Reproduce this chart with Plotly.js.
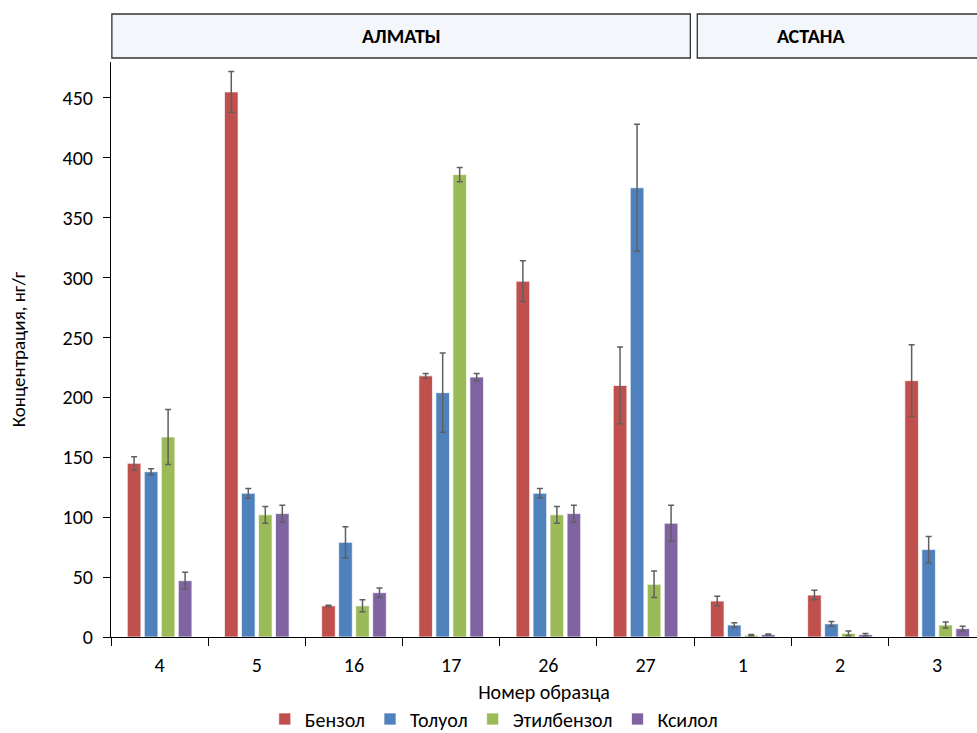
<!DOCTYPE html>
<html>
<head>
<meta charset="utf-8">
<script src="https://cdn.plot.ly/plotly-3.0.1.min.js"></script>
<style>html,body{margin:0;padding:0;background:#fff;}#chart{width:977px;height:733px;}</style>
</head>
<body>
<div id="chart"></div>
<script>
// Sample numbers (categories)
var samples = ['4', '5', '16', '17', '26', '27', '1', '2', '3'];
var seriesNames = ['Бензол', 'Толуол', 'Этилбензол', 'Ксилол'];
// Concentrations, ng/g
var benzene     = [145, 455, 26, 218, 297, 210, 30, 35, 214];
var toluene     = [138, 120, 79, 204, 120, 375, 10, 11, 73];
var ethylbenz   = [167, 102, 26, 386, 102, 44, 1.5, 3, 10];
var xylene      = [47, 103, 37, 217, 103, 95, 2, 2, 7];
// Error (±)
var benzeneErr   = [5.5, 17, 0.5, 2, 17, 32, 4, 4, 30];
var tolueneErr   = [2.5, 4, 13, 33, 4, 53, 2, 2, 11];
var ethylbenzErr = [23, 7, 5, 6, 7, 11, 0.5, 2, 2.5];
var xyleneErr    = [7, 7, 4, 3, 7, 15, 0.5, 1, 2];
var regions = ['АЛМАТЫ', 'АСТАНА'];

var colors = ['#C0504D', '#4F81BD', '#9BBB59', '#8064A2'];
var vals = [benzene, toluene, ethylbenz, xylene];
var errs = [benzeneErr, tolueneErr, ethylbenzErr, xyleneErr];
var FONT = 'Carlito, Lato, "Open Sans", sans-serif';

var traces = vals.map(function (v, i) {
  return {
    type: 'bar',
    name: seriesNames[i],
    x: samples,
    y: v,
    marker: {color: colors[i], line: {color: 'rgba(255,255,255,0.7)', width: 1}},
    error_y: {type: 'data', array: errs[i], visible: true, color: '#5f5f5f', thickness: 1.5, width: 3}
  };
});

var layout = {
  width: 977, height: 733,
  margin: {l: 111, r: 0, t: 62, b: 96, autoexpand: false},
  paper_bgcolor: '#ffffff', plot_bgcolor: '#ffffff',
  font: {family: FONT, size: 20, color: '#000'},
  barmode: 'group', bargap: 0.3, bargroupgap: 0.2,
  showlegend: true,
  legend: {orientation: 'h', x: 0.442, xanchor: 'center', y: -0.1426, yanchor: 'middle',
           font: {family: FONT, size: 20, color: '#000'}, traceorder: 'normal', itemwidth: 30},
  xaxis: {
    type: 'category', range: [-0.5, 8.41],
    showline: true, linecolor: '#000', linewidth: 1,
    ticks: 'outside', tickson: 'boundaries', ticklen: 8, tickcolor: '#000',
    ticklabelstandoff: 10,
    showgrid: false, zeroline: false,
    tickfont: {family: FONT, size: 20, color: '#000'},
    title: {text: 'Номер образца', font: {family: FONT, size: 20, color: '#000'}, standoff: 8}
  },
  yaxis: {
    range: [0, 480], tickvals: [0, 50, 100, 150, 200, 250, 300, 350, 400, 450],
    showline: true, linecolor: '#000', linewidth: 1,
    ticks: 'outside', ticklen: 7, tickcolor: '#000',
    ticklabelstandoff: 6,
    showgrid: false, zeroline: false,
    tickfont: {family: FONT, size: 20, color: '#000'},
    title: {text: 'Концентрация, нг/г', font: {family: FONT, size: 19, color: '#000'}, standoff: 31}
  },
  shapes: [
    {type: 'rect', xref: 'paper', yref: 'paper', x0: 0.001, x1: 0.669, y0: 1.007, y1: 1.0835,
     fillcolor: '#F3F6FB', line: {color: '#333', width: 1.3}},
    {type: 'rect', xref: 'paper', yref: 'paper', x0: 0.677, x1: 1.02, y0: 1.007, y1: 1.0835,
     fillcolor: '#F3F6FB', line: {color: '#333', width: 1.3}}
  ],
  annotations: [
    {xref: 'paper', yref: 'paper', x: 0.335, y: 1.045, yanchor: 'middle', text: '<b>' + regions[0] + '</b>', showarrow: false,
     font: {family: FONT, size: 20, color: '#000'}},
    {xref: 'paper', yref: 'paper', x: 0.85, y: 1.045, yanchor: 'middle', text: '<b>' + regions[1] + '</b>', showarrow: false,
     font: {family: FONT, size: 20, color: '#000'}}
  ]
};

Plotly.newPlot('chart', traces, layout, {displayModeBar: false, staticPlot: true});
</script>
</body>
</html>
